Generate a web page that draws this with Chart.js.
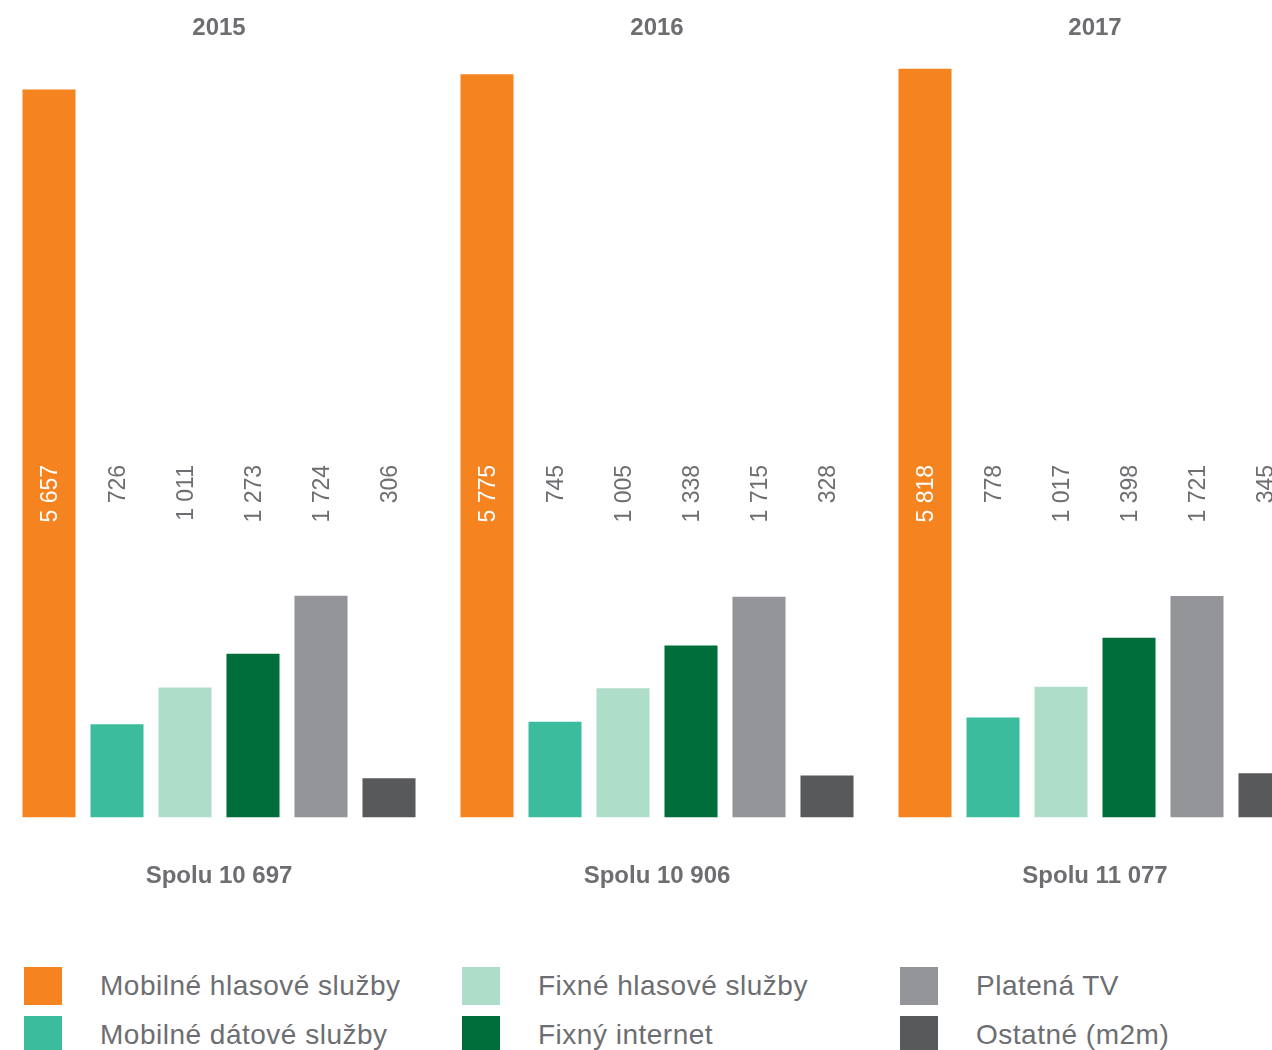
<!DOCTYPE html>
<html lang="sk">
<head>
  <meta charset="UTF-8" />
  <title>Tržby podľa služieb 2015–2017</title>
  <script src="https://cdn.jsdelivr.net/npm/chart.js"></script>
  <style>
    body { margin: 0; background: #fff; font-family: 'Liberation Sans', Arial, sans-serif; }
    .wrap { position: relative; width: 1272px; height: 1050px; overflow: hidden; }
    #chart { position: absolute; left: 0; top: 0; }
    .legend { position: absolute; left: 24px; top: 967px; display: grid;
              grid-template-columns: 438px 438px 438px; grid-auto-flow: column;
              grid-template-rows: 49px 49px; }
    .legend-item { display: flex; align-items: center; height: 38px;
                   font-size: 28px; letter-spacing: 0.5px; color: #6d6e71; }
    .legend-box { width: 38px; height: 38px; margin-right: 38px; flex: none; }
  </style>
</head>
<body>
  <div class="wrap">
    <canvas id="chart" width="1314" height="935"></canvas>
    <div class="legend" id="legend"></div>
  </div>

  <script>
    const years = ['2015', '2016', '2017'];
    const seriesNames = ['Mobilné hlasové služby', 'Mobilné dátové služby', 'Fixné hlasové služby',
                         'Fixný internet', 'Platená TV', 'Ostatné (m2m)'];
    const seriesColors = ['#f48320', '#3bbd9d', '#aeddca', '#006e3b', '#939598', '#58595b'];

    // values per series, one entry per year
    const mobileVoice = [5657, 5775, 5818];
    const mobileData  = [726, 745, 778];
    const fixedVoice  = [1011, 1005, 1017];
    const fixedNet    = [1273, 1338, 1398];
    const payTv       = [1724, 1715, 1721];
    const other       = [306, 328, 345];
    const seriesValues = [mobileVoice, mobileData, fixedVoice, fixedNet, payTv, other];

    function fmt(n) {
      return String(n).replace(/\B(?=(\d{3})+(?!\d))/g, ' ');
    }

    const totals = years.map((y, i) => seriesValues.reduce((s, arr) => s + arr[i], 0));

    Chart.defaults.font.family = "'Liberation Sans', Arial, sans-serif";

    const LABEL_Y = 465;
    const valueLabels = {
      id: 'valueLabels',
      afterDatasetsDraw(chart) {
        const ctx = chart.ctx;
        ctx.save();
        ctx.font = '23px "Liberation Sans", Arial, sans-serif';
        ctx.textAlign = 'right';
        ctx.textBaseline = 'middle';
        chart.data.datasets.forEach((ds, di) => {
          const meta = chart.getDatasetMeta(di);
          meta.data.forEach((bar, i) => {
            ctx.save();
            ctx.translate(bar.x, LABEL_Y);
            ctx.rotate(-Math.PI / 2);
            ctx.fillStyle = di === 0 ? '#ffffff' : '#6d6e71';
            ctx.fillText(fmt(ds.data[i]), 0, 2);
            ctx.restore();
          });
        });
        ctx.restore();
      }
    };

    new Chart(document.getElementById('chart'), {
      type: 'bar',
      data: {
        labels: years,
        datasets: seriesNames.map((name, i) => ({
          label: name,
          data: seriesValues[i],
          backgroundColor: seriesColors[i],
          categoryPercentage: 0.9315,
          barPercentage: 0.78
        }))
      },
      options: {
        responsive: false,
        animation: false,
        layout: { padding: { top: 10.7, bottom: 0.6, left: 0, right: 0 } },
        plugins: { legend: { display: false }, tooltip: { enabled: false } },
        scales: {
          y: { display: false, min: 0, max: 6000 },
          x: {
            position: 'bottom',
            grid: { display: false, drawTicks: false },
            border: { display: false },
            ticks: {
              padding: 44,
              color: '#6d6e71',
              font: { size: 24, weight: 'bold' },
              callback: (val, idx) => 'Spolu ' + fmt(totals[idx])
            }
          },
          x2: {
            type: 'category',
            labels: years,
            position: 'top',
            grid: { display: false, drawTicks: false },
            border: { display: false },
            ticks: { padding: 2.9, color: '#6d6e71', font: { size: 24, weight: 'bold' } }
          }
        }
      },
      plugins: [valueLabels]
    });

    const legend = document.getElementById('legend');
    seriesNames.forEach((name, i) => {
      const item = document.createElement('div');
      item.className = 'legend-item';
      item.innerHTML = '<span class="legend-box" style="background:' + seriesColors[i] + '"></span>' + name;
      legend.appendChild(item);
    });
  </script>
</body>
</html>
